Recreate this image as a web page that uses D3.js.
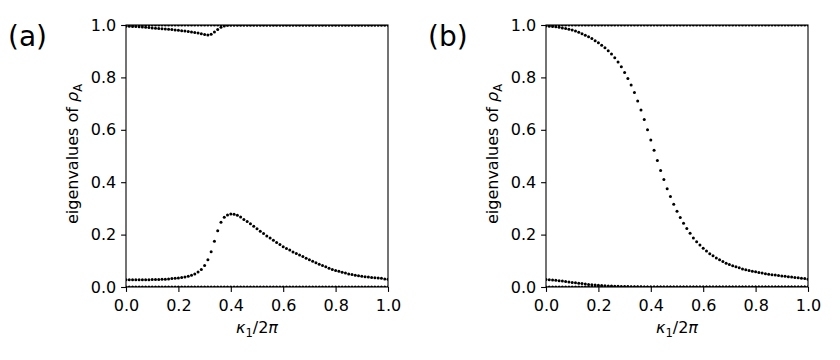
<!DOCTYPE html>
<html>
<head>
<meta charset="utf-8">
<script src="https://cdn.jsdelivr.net/npm/d3@7"></script>
<style>
  html, body { margin: 0; padding: 0; background: #fff; }
  svg { display: block; }
  text { font-family: "DejaVu Sans", sans-serif; fill: #000; }
</style>
</head>
<body>
<svg id="chart" width="840" height="360"></svg>
<script>
// ---------- data ----------
const kappa = [
  0, 0.0125, 0.025, 0.0375, 0.05, 0.0625, 0.075, 0.0875, 0.1, 0.1125,
  0.125, 0.1375, 0.15, 0.1625, 0.175, 0.1875, 0.2, 0.2125, 0.225, 0.2375,
  0.25, 0.2625, 0.275, 0.2875, 0.3, 0.3125, 0.325, 0.3375, 0.35, 0.3625,
  0.375, 0.3875, 0.4, 0.4125, 0.425, 0.4375, 0.45, 0.4625, 0.475, 0.4875,
  0.5, 0.5125, 0.525, 0.5375, 0.55, 0.5625, 0.575, 0.5875, 0.6, 0.6125,
  0.625, 0.6375, 0.65, 0.6625, 0.675, 0.6875, 0.7, 0.7125, 0.725, 0.7375,
  0.75, 0.7625, 0.775, 0.7875, 0.8, 0.8125, 0.825, 0.8375, 0.85, 0.8625,
  0.875, 0.8875, 0.9, 0.9125, 0.925, 0.9375, 0.95, 0.9625, 0.975, 0.9875, 1.0
];

// panel (a)
const aTop = [
  1, 1, 1, 1, 1, 1, 1, 1, 1, 1,
  1, 1, 1, 1, 1, 1, 1, 1, 1, 1,
  1, 1, 1, 1, 1, 1, 1, 1, 1, 1,
  1, 1, 1, 1, 1, 1, 1, 1, 1, 1,
  1, 1, 1, 1, 1, 1, 1, 1, 1, 1,
  1, 1, 1, 1, 1, 1, 1, 1, 1, 1,
  1, 1, 1, 1, 1, 1, 1, 1, 1, 1,
  1, 1, 1, 1, 1, 1, 1, 1, 1, 1, 1
];
const aDip = [
  0.995, 0.995, 0.994, 0.994, 0.993, 0.992, 0.991, 0.990, 0.989, 0.988,
  0.987, 0.986, 0.985, 0.984, 0.983, 0.981, 0.980, 0.978, 0.977, 0.975,
  0.973, 0.971, 0.969, 0.967, 0.964, 0.962, 0.965, 0.973, 0.983, 0.991,
  0.996, 0.999, 1, 1, 1, 1, 1, 1, 1, 1,
  1, 1, 1, 1, 1, 1, 1, 1, 1, 1,
  1, 1, 1, 1, 1, 1, 1, 1, 1, 1,
  1, 1, 1, 1, 1, 1, 1, 1, 1, 1,
  1, 1, 1, 1, 1, 1, 1, 1, 1, 1, 1
];
const aBump = [
  0.028, 0.028, 0.028, 0.028, 0.028, 0.028, 0.028, 0.028, 0.029, 0.029,
  0.029, 0.030, 0.030, 0.031, 0.032, 0.033, 0.034, 0.036, 0.038, 0.041,
  0.045, 0.050, 0.057, 0.067, 0.082, 0.104, 0.135, 0.175, 0.215, 0.247,
  0.266, 0.275, 0.279, 0.278, 0.274, 0.267, 0.258, 0.250, 0.241, 0.232,
  0.222, 0.213, 0.204, 0.195, 0.187, 0.178, 0.170, 0.162, 0.154, 0.147,
  0.141, 0.134, 0.128, 0.122, 0.116, 0.110, 0.104, 0.098, 0.093, 0.087,
  0.082, 0.077, 0.072, 0.067, 0.063, 0.060, 0.056, 0.053, 0.050, 0.048,
  0.045, 0.043, 0.041, 0.039, 0.038, 0.036, 0.035, 0.034, 0.033, 0.031, 0.030
];
const aZero = [
  0, 0, 0, 0, 0, 0, 0, 0, 0, 0,
  0, 0, 0, 0, 0, 0, 0, 0, 0, 0,
  0, 0, 0, 0, 0, 0, 0, 0, 0, 0,
  0, 0, 0, 0, 0, 0, 0, 0, 0, 0,
  0, 0, 0, 0, 0, 0, 0, 0, 0, 0,
  0, 0, 0, 0, 0, 0, 0, 0, 0, 0,
  0, 0, 0, 0, 0, 0, 0, 0, 0, 0,
  0, 0, 0, 0, 0, 0, 0, 0, 0, 0, 0
];

// panel (b)
const bTop = [
  1, 1, 1, 1, 1, 1, 1, 1, 1, 1,
  1, 1, 1, 1, 1, 1, 1, 1, 1, 1,
  1, 1, 1, 1, 1, 1, 1, 1, 1, 1,
  1, 1, 1, 1, 1, 1, 1, 1, 1, 1,
  1, 1, 1, 1, 1, 1, 1, 1, 1, 1,
  1, 1, 1, 1, 1, 1, 1, 1, 1, 1,
  1, 1, 1, 1, 1, 1, 1, 1, 1, 1,
  1, 1, 1, 1, 1, 1, 1, 1, 1, 1, 1
];
const bDecay = [
  0.996, 0.995, 0.994, 0.993, 0.991, 0.989, 0.987, 0.984, 0.981, 0.977,
  0.972, 0.967, 0.961, 0.955, 0.948, 0.940, 0.932, 0.923, 0.913, 0.902,
  0.889, 0.875, 0.859, 0.841, 0.819, 0.796, 0.771, 0.742, 0.710, 0.676,
  0.639, 0.600, 0.561, 0.522, 0.483, 0.445, 0.410, 0.375, 0.345, 0.316,
  0.289, 0.265, 0.243, 0.223, 0.205, 0.187, 0.173, 0.160, 0.148, 0.137,
  0.127, 0.119, 0.111, 0.104, 0.097, 0.091, 0.086, 0.081, 0.077, 0.073,
  0.069, 0.066, 0.063, 0.060, 0.058, 0.055, 0.053, 0.051, 0.049, 0.047,
  0.046, 0.044, 0.042, 0.041, 0.039, 0.038, 0.036, 0.035, 0.033, 0.032, 0.030
];
const bSmall = [
  0.029, 0.028, 0.027, 0.026, 0.024, 0.023, 0.021, 0.019, 0.017, 0.016,
  0.014, 0.013, 0.011, 0.010, 0.009, 0.008, 0.007, 0.006, 0.005, 0.004,
  0.004, 0.003, 0.003, 0.002, 0.002, 0.002, 0.001, 0.001, 0.001, 0.001,
  0, 0, 0, 0, 0, 0, 0, 0, 0, 0,
  0, 0, 0, 0, 0, 0, 0, 0, 0, 0,
  0, 0, 0, 0, 0, 0, 0, 0, 0, 0,
  0, 0, 0, 0, 0, 0, 0, 0, 0, 0,
  0, 0, 0, 0, 0, 0, 0, 0, 0, 0, 0
];
const bZero = [
  0, 0, 0, 0, 0, 0, 0, 0, 0, 0,
  0, 0, 0, 0, 0, 0, 0, 0, 0, 0,
  0, 0, 0, 0, 0, 0, 0, 0, 0, 0,
  0, 0, 0, 0, 0, 0, 0, 0, 0, 0,
  0, 0, 0, 0, 0, 0, 0, 0, 0, 0,
  0, 0, 0, 0, 0, 0, 0, 0, 0, 0,
  0, 0, 0, 0, 0, 0, 0, 0, 0, 0,
  0, 0, 0, 0, 0, 0, 0, 0, 0, 0, 0
];

const tickValues = [0, 0.2, 0.4, 0.6, 0.8, 1.0];
const panelLabels = ["(a)", "(b)"];

// ---------- drawing ----------
const svg = d3.select("#chart");
svg.append("rect").attr("width", 840).attr("height", 360).attr("fill", "#fff");

const panels = [
  { label: panelLabels[0], left: 126, series: [aTop, aDip, aBump, aZero] },
  { label: panelLabels[1], left: 546, series: [bTop, bDecay, bSmall, bZero] }
];
const W = 262, topY = 25, bottomY = 287;
const tickLen = 4.9, tickPad = 4.9;
const FS = 16;

panels.forEach((p, pi) => {
  const x = d3.scaleLinear().domain([0, 1]).range([p.left, p.left + W]);
  const y = d3.scaleLinear().domain([0, 1]).range([bottomY, topY]);
  const g = svg.append("g");

  const clipId = "clip" + pi;
  svg.append("clipPath").attr("id", clipId)
    .append("rect").attr("x", p.left).attr("y", topY).attr("width", W).attr("height", bottomY - topY);

  const dots = g.append("g").attr("clip-path", `url(#${clipId})`);
  p.series.forEach(s => {
    dots.selectAll(null).data(kappa.map((k, i) => [k, s[i]]))
      .join("circle")
      .attr("cx", d => x(d[0]))
      .attr("cy", d => y(d[1]))
      .attr("r", 1.5)
      .attr("fill", "#000");
  });

  // spines
  g.append("rect").attr("x", p.left).attr("y", topY).attr("width", W).attr("height", bottomY - topY)
    .attr("fill", "none").attr("stroke", "#000").attr("stroke-width", 1.1);

  const xAxis = g.append("g").attr("transform", `translate(0,${bottomY})`)
    .call(d3.axisBottom(x).tickValues(tickValues).tickFormat(d3.format(".1f"))
      .tickSize(tickLen).tickPadding(tickPad).tickSizeOuter(0));
  const yAxis = g.append("g").attr("transform", `translate(${p.left},0)`)
    .call(d3.axisLeft(y).tickValues(tickValues).tickFormat(d3.format(".1f"))
      .tickSize(tickLen).tickPadding(tickPad).tickSizeOuter(0));
  [xAxis, yAxis].forEach(a => {
    a.select(".domain").remove();
    a.selectAll("line").attr("stroke", "#000").attr("stroke-width", 1.1);
    a.selectAll("text").attr("font-family", "DejaVu Sans").attr("font-size", FS).attr("fill", "#000");
  });
  xAxis.selectAll("text").attr("dy", "0.87em");

  // x label
  const xl = g.append("text").attr("x", p.left + W / 2).attr("y", 333)
    .attr("text-anchor", "middle").attr("font-size", FS);
  xl.append("tspan").attr("font-style", "italic").text("κ");
  xl.append("tspan").attr("font-size", 11.5).attr("dy", 3.5).text("1");
  xl.append("tspan").attr("dy", -3.5).text("/2");
  xl.append("tspan").attr("font-style", "italic").text("π");

  // y label
  const yl = g.append("text")
    .attr("transform", `translate(${p.left - 48},154) rotate(-90)`)
    .attr("text-anchor", "middle").attr("font-size", FS);
  yl.append("tspan").text("eigenvalues of ");
  yl.append("tspan").attr("font-style", "italic").text("ρ");
  yl.append("tspan").attr("font-size", 11.5).attr("dy", 3.5).text("A");

  // panel label
  svg.append("text").attr("x", p.left - 118).attr("y", 46)
    .attr("font-size", 28).text(p.label);
});
</script>
</body>
</html>
